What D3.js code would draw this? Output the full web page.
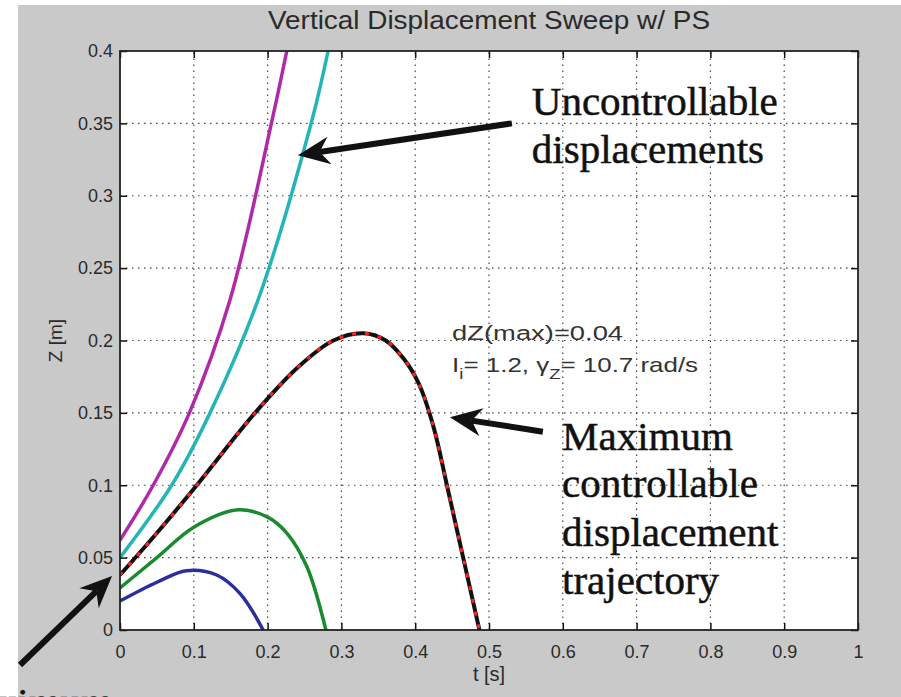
<!DOCTYPE html>
<html>
<head>
<meta charset="utf-8">
<script src="https://cdn.jsdelivr.net/npm/d3@7/dist/d3.min.js"></script>
<style>
  body { margin: 0; background: #fff; }
  svg { display: block; }
  .tick text { font-family: "Liberation Sans", Arial, sans-serif; font-size: 18px; fill: #2a2a2a; }
  .note { font-family: "Liberation Serif", "Times New Roman", serif; font-size: 41px; fill: #111; stroke: #111; stroke-width: 0.5px; }
</style>
</head>
<body>
<script>
(function(){

//axis ticks
var xTicks = [0, 0.1, 0.2, 0.3, 0.4, 0.5, 0.6, 0.7, 0.8, 0.9, 1];
var xTickLabels = ["0", "0.1", "0.2", "0.3", "0.4", "0.5", "0.6", "0.7", "0.8", "0.9", "1"];
var yTicks = [0, 0.05, 0.1, 0.15, 0.2, 0.25, 0.3, 0.35, 0.4];
var yTickLabels = ["0", "0.05", "0.1", "0.15", "0.2", "0.25", "0.3", "0.35", "0.4"];

//sweep curves, time [s] and Z [m]
var blueT    = [0, 0.05, 0.09, 0.131, 0.163, 0.194];
var blueZ    = [0.02, 0.033, 0.041, 0.038, 0.025, 0];
var greenT   = [0, 0.05, 0.1, 0.16, 0.2, 0.226, 0.253, 0.279];
var greenZ   = [0.029, 0.05, 0.071, 0.083, 0.078, 0.067, 0.044, 0];
var blackT   = [0, 0.05, 0.104, 0.183, 0.24, 0.289, 0.33, 0.36, 0.385, 0.405, 0.425, 0.443, 0.465, 0.487];
var blackZ   = [0.038, 0.067, 0.1, 0.15, 0.181, 0.2, 0.205, 0.2, 0.187, 0.17, 0.14, 0.1, 0.05, 0];
var cyanT    = [0, 0.07, 0.122, 0.187, 0.26, 0.282];
var cyanZ    = [0.05, 0.1, 0.15, 0.228, 0.352, 0.4];
var magentaT = [0, 0.045, 0.094, 0.149, 0.206, 0.226];
var magentaZ = [0.062, 0.1, 0.15, 0.228, 0.352, 0.4];

//figure frame
var width = 901,
    height = 697;

var svg = d3.select("body")
    .append("svg")
    .attr("width", width)
    .attr("height", height);

//grey figure background
svg.append("rect")
    .attr("x", 18).attr("y", 5)
    .attr("width", width - 18).attr("height", height - 5)
    .attr("fill", "#c9c9c9");

var x = d3.scaleLinear().domain([0, 1]).range([120, 858]);
var y = d3.scaleLinear().domain([0, 0.4]).range([630, 51]);

//white axes area
svg.append("rect")
    .attr("x", x(0)).attr("y", y(0.4))
    .attr("width", x(1) - x(0)).attr("height", y(0) - y(0.4))
    .attr("fill", "#fff");

svg.append("clipPath").attr("id", "plotclip")
    .append("rect")
    .attr("x", x(0)).attr("y", y(0.4))
    .attr("width", x(1) - x(0)).attr("height", y(0) - y(0.4));

//dotted grid
var grid = svg.append("g").attr("class", "grid");
grid.selectAll(".gx")
    .data(xTicks.slice(1, -1))
    .enter()
    .append("line")
    .attr("x1", function(d){ return x(d); })
    .attr("x2", function(d){ return x(d); })
    .attr("y1", y(0)).attr("y2", y(0.4))
    .attr("stroke", "#444").attr("stroke-width", 1.2)
    .attr("stroke-dasharray", "1.5,4.5");
grid.selectAll(".gy")
    .data(yTicks.slice(1, -1))
    .enter()
    .append("line")
    .attr("y1", function(d){ return y(d); })
    .attr("y2", function(d){ return y(d); })
    .attr("x1", x(0)).attr("x2", x(1))
    .attr("stroke", "#444").attr("stroke-width", 1.2)
    .attr("stroke-dasharray", "1.5,4.5");

//curves
var line = d3.line()
    .x(function(d){ return x(d[0]); })
    .y(function(d){ return y(d[1]); })
    .curve(d3.curveCatmullRom.alpha(0.5));

function pairs(ts, zs){
    return ts.map(function(t, i){ return [t, zs[i]]; });
}

var curves = svg.append("g").attr("clip-path", "url(#plotclip)");

function drawCurve(ts, zs, color, w, dash){
    var p = curves.append("path")
        .datum(pairs(ts, zs))
        .attr("d", line)
        .attr("fill", "none")
        .attr("stroke", color)
        .attr("stroke-width", w)
        .attr("stroke-linejoin", "round");
    if (dash) p.attr("stroke-dasharray", dash);
}

drawCurve(blueT, blueZ, "#2b2f9e", 3.5);
drawCurve(greenT, greenZ, "#1b8a2e", 3.5);
drawCurve(magentaT, magentaZ, "#b02aa8", 3.5);
drawCurve(cyanT, cyanZ, "#25b5b8", 3.5);
drawCurve(blackT, blackZ, "#111", 4);
drawCurve(blackT, blackZ, "#ff2020", 3, "4,9");

//axes, ticks inward, box on
var xAxis = d3.axisBottom(x).tickValues(xTicks).tickSizeInner(-7).tickSizeOuter(0).tickPadding(15)
    .tickFormat(function(d, i){ return xTickLabels[i]; });
var yAxis = d3.axisLeft(y).tickValues(yTicks).tickSizeInner(-7).tickSizeOuter(0).tickPadding(7)
    .tickFormat(function(d, i){ return yTickLabels[i]; });

svg.append("g").attr("transform", "translate(0," + y(0) + ")").call(xAxis);
svg.append("g").attr("transform", "translate(" + x(0) + ",0)").call(yAxis);
svg.append("g").attr("transform", "translate(0," + y(0.4) + ")")
    .call(d3.axisTop(x).tickValues(xTicks).tickSizeInner(-7).tickSizeOuter(0).tickFormat(""));
svg.append("g").attr("transform", "translate(" + x(1) + ",0)")
    .call(d3.axisRight(y).tickValues(yTicks).tickSizeInner(-7).tickSizeOuter(0).tickFormat(""));

svg.selectAll(".domain").remove();
svg.selectAll(".tick line").attr("stroke", "#111").attr("stroke-width", 1.5);

svg.append("rect")
    .attr("x", x(0)).attr("y", y(0.4))
    .attr("width", x(1) - x(0)).attr("height", y(0) - y(0.4))
    .attr("fill", "none").attr("stroke", "#222").attr("stroke-width", 1.8);

//title and axis labels
svg.append("text")
    .attr("x", (x(0) + x(1)) / 2).attr("y", 29)
    .attr("text-anchor", "middle")
    .attr("textLength", 442).attr("lengthAdjust", "spacingAndGlyphs")
    .style("font-family", "Liberation Sans, Arial, sans-serif")
    .style("font-size", "25px").style("fill", "#2a2a2a")
    .text("Vertical Displacement Sweep w/ PS");

svg.append("text")
    .attr("x", (x(0) + x(1)) / 2).attr("y", 681)
    .attr("text-anchor", "middle")
    .style("font-family", "Liberation Sans, Arial, sans-serif")
    .style("font-size", "20px").style("fill", "#2a2a2a")
    .text("t [s]");

svg.append("text")
    .attr("transform", "translate(62," + (y(0) + y(0.4)) / 2 + ") rotate(-90)")
    .attr("text-anchor", "middle")
    .style("font-family", "Liberation Sans, Arial, sans-serif")
    .style("font-size", "19px").style("fill", "#2a2a2a")
    .text("Z [m]");

//in-plot parameter note
var sans = "Liberation Sans, Arial, sans-serif";
svg.append("text")
    .attr("x", x(0.45)).attr("y", y(0.2003))
    .attr("textLength", 171).attr("lengthAdjust", "spacingAndGlyphs")
    .style("font-family", sans).style("font-size", "20px").style("fill", "#333")
    .text("dZ(max)=0.04");

var p2 = svg.append("text")
    .attr("x", x(0.45)).attr("y", y(0.178))
    .attr("textLength", 246).attr("lengthAdjust", "spacingAndGlyphs")
    .style("font-family", sans).style("font-size", "21px").style("fill", "#333");
p2.append("tspan").text("I");
p2.append("tspan").attr("dy", 7).style("font-size", "15px").text("i");
p2.append("tspan").attr("dy", -7).text("= 1.2, \u03b3");
p2.append("tspan").attr("dy", 7).style("font-size", "15px").text("Z");
p2.append("tspan").attr("dy", -7).text("= 10.7 rad/s");

//serif call-outs
function note(t, z, lines, anchor){
    var g = svg.append("text")
        .attr("class", "note")
        .attr("text-anchor", anchor || "start");
    lines.forEach(function(s, i){
        g.append("tspan")
            .attr("x", x(t))
            .attr("y", y(z[i]))
            .text(s);
    });
}

note(0.558, [0.3558, 0.3226], ["Uncontrollable", "displacements"]);
note(0.599, [0.1244, 0.0919, 0.058, 0.0249], ["Maximum", "controllable", "displacement", "trajectory"]);
note(-0.0095, [-0.0595], ["Maximum"], "end");

//arrows
function arrow(t0, z0, t1, z1){
    var x0 = x(t0), y0 = y(z0), x1 = x(t1), y1 = y(z1);
    var a = Math.atan2(y1 - y0, x1 - x0);
    var len = 32, half = 14, notch = 22;
    var bx = x1 - notch * Math.cos(a), by = y1 - notch * Math.sin(a);
    svg.append("line")
        .attr("x1", x0).attr("y1", y0).attr("x2", bx).attr("y2", by)
        .attr("stroke", "#111").attr("stroke-width", 6);
    var hx = x1 - len * Math.cos(a), hy = y1 - len * Math.sin(a);
    var pts = [
        [x1, y1],
        [hx + half * Math.sin(a), hy - half * Math.cos(a)],
        [bx, by],
        [hx - half * Math.sin(a), hy + half * Math.cos(a)]
    ];
    svg.append("path")
        .attr("d", "M" + pts.join("L") + "Z")
        .attr("fill", "#111");
}

arrow(0.531, 0.350, 0.241, 0.328);
arrow(0.573, 0.137, 0.447, 0.147);
arrow(-0.1355, -0.0242, -0.0108, 0.0373);

})();
</script>
</body>
</html>
